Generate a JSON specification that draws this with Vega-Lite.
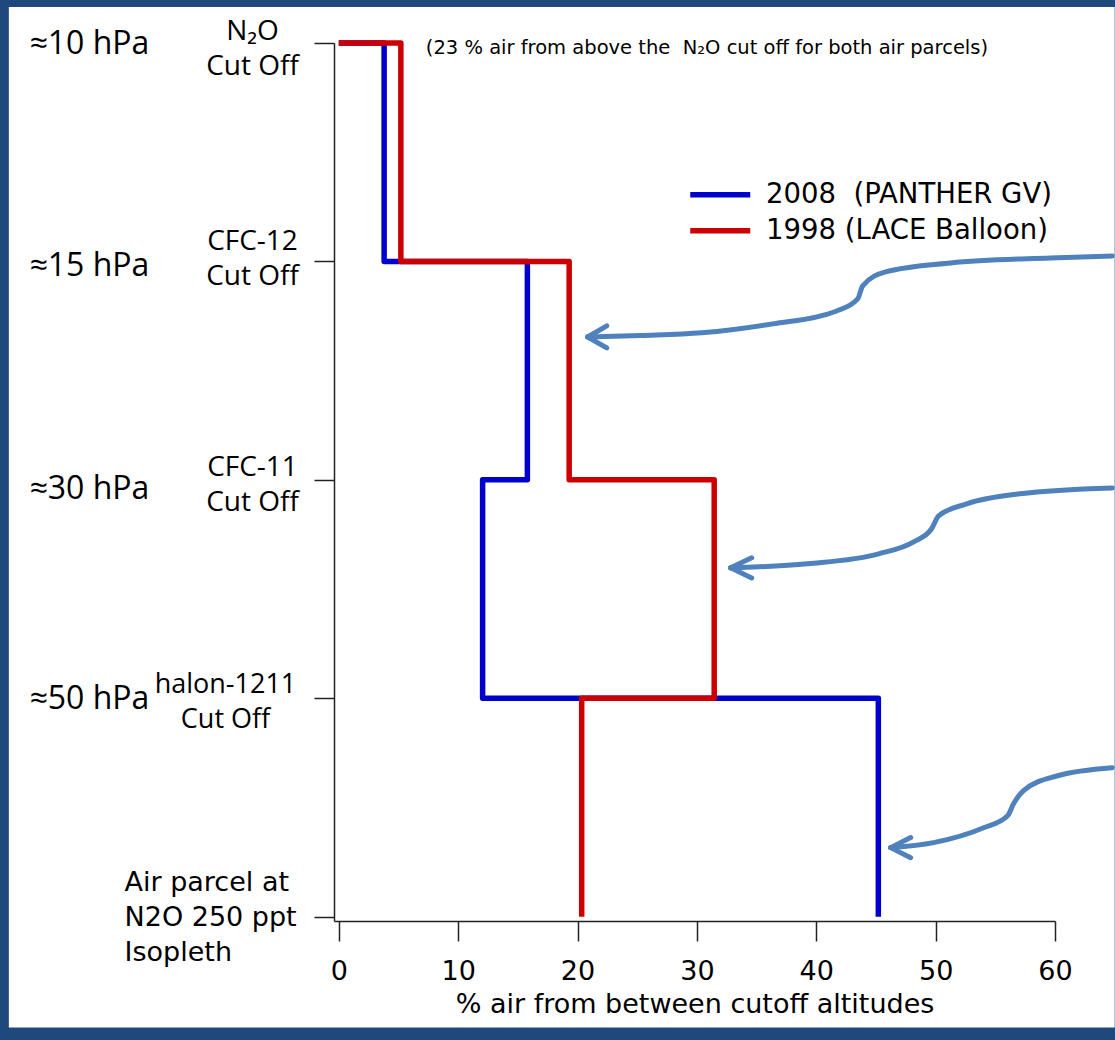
{
  "$schema": "https://vega.github.io/schema/vega-lite/v6.json",
  "background": "#1f497d",
  "padding": {"left": 8, "top": 6, "right": 0, "bottom": 12},
  "width": 721,
  "height": 878,
  "config": {"view": {"stroke": null}},
  "datasets": {
    "steps": [
      {"series": "2008\u00a0 (PANTHER GV)", "level": 4, "pct": 0},
      {"series": "2008\u00a0 (PANTHER GV)", "level": 3, "pct": 3.8},
      {"series": "2008\u00a0 (PANTHER GV)", "level": 2, "pct": 15.8},
      {"series": "2008\u00a0 (PANTHER GV)", "level": 1, "pct": 12.05},
      {"series": "2008\u00a0 (PANTHER GV)", "level": 0, "pct": 45.2},
      {"series": "1998 (LACE Balloon)", "level": 4, "pct": 0},
      {"series": "1998 (LACE Balloon)", "level": 3, "pct": 5.2},
      {"series": "1998 (LACE Balloon)", "level": 2, "pct": 19.3},
      {"series": "1998 (LACE Balloon)", "level": 1, "pct": 31.45},
      {"series": "1998 (LACE Balloon)", "level": 0, "pct": 20.35}
    ],
    "arrows": [
      {"part": "a1", "seq": 0, "pct": 20.85, "level": 2.654},
      {"part": "a1", "seq": 1, "pct": 25.29, "level": 2.661},
      {"part": "a1", "seq": 2, "pct": 30.40, "level": 2.673},
      {"part": "a1", "seq": 3, "pct": 36.35, "level": 2.714},
      {"part": "a1", "seq": 4, "pct": 41.71, "level": 2.773},
      {"part": "a1", "seq": 5, "pct": 43.47, "level": 2.828},
      {"part": "a1", "seq": 6, "pct": 43.89, "level": 2.888},
      {"part": "a1", "seq": 7, "pct": 45.81, "level": 2.952},
      {"part": "a1", "seq": 8, "pct": 51.26, "level": 2.993},
      {"part": "a1", "seq": 9, "pct": 59.63, "level": 3.016},
      {"part": "a1", "seq": 10, "pct": 64.8, "level": 3.025},
      {"part": "a1u", "seq": 0, "pct": 20.85, "level": 2.654},
      {"part": "a1u", "seq": 1, "pct": 22.45, "level": 2.705},
      {"part": "a1d", "seq": 0, "pct": 20.85, "level": 2.654},
      {"part": "a1d", "seq": 1, "pct": 22.45, "level": 2.604},
      {"part": "a2", "seq": 0, "pct": 32.83, "level": 1.597},
      {"part": "a2", "seq": 1, "pct": 39.28, "level": 1.616},
      {"part": "a2", "seq": 2, "pct": 45.23, "level": 1.661},
      {"part": "a2", "seq": 3, "pct": 48.16, "level": 1.716},
      {"part": "a2", "seq": 4, "pct": 49.66, "level": 1.776},
      {"part": "a2", "seq": 5, "pct": 50.25, "level": 1.835},
      {"part": "a2", "seq": 6, "pct": 52.60, "level": 1.890},
      {"part": "a2", "seq": 7, "pct": 57.04, "level": 1.936},
      {"part": "a2", "seq": 8, "pct": 64.8, "level": 1.963},
      {"part": "a2u", "seq": 0, "pct": 32.83, "level": 1.597},
      {"part": "a2u", "seq": 1, "pct": 34.59, "level": 1.643},
      {"part": "a2d", "seq": 0, "pct": 32.83, "level": 1.597},
      {"part": "a2d", "seq": 1, "pct": 34.59, "level": 1.551},
      {"part": "a3", "seq": 0, "pct": 46.23, "level": 0.316},
      {"part": "a3", "seq": 1, "pct": 49.83, "level": 0.339},
      {"part": "a3", "seq": 2, "pct": 54.02, "level": 0.407},
      {"part": "a3", "seq": 3, "pct": 56.03, "level": 0.462},
      {"part": "a3", "seq": 4, "pct": 56.53, "level": 0.517},
      {"part": "a3", "seq": 5, "pct": 57.37, "level": 0.577},
      {"part": "a3", "seq": 6, "pct": 60.22, "level": 0.645},
      {"part": "a3", "seq": 7, "pct": 64.8, "level": 0.682},
      {"part": "a3u", "seq": 0, "pct": 46.23, "level": 0.316},
      {"part": "a3u", "seq": 1, "pct": 47.91, "level": 0.362},
      {"part": "a3d", "seq": 0, "pct": 46.23, "level": 0.316},
      {"part": "a3d", "seq": 1, "pct": 47.91, "level": 0.270}
    ],
    "note": [
      {"text": "(23 % air from above the\u00a0 N\u2082O cut off for both air parcels)", "pct": 7.29, "level": 4}
    ]
  },
  "layer": [
    {
      "layer": [
        {
          "data": {"values": [{}]},
          "mark": {"type": "rect", "fill": "#ffffff"},
          "encoding": {
            "x": {
              "datum": -27.64, "type": "quantitative",
              "scale": {"domain": [-0.4, 60], "nice": false, "zero": false},
              "axis": {
                "values": [0, 10, 20, 30, 40, 50, 60],
                "title": "% air from between cutoff altitudes",
                "zindex": 1, "grid": false,
                "domainColor": "#222", "domainWidth": 1.5,
                "tickColor": "#222", "tickWidth": 1.5, "tickSize": 20,
                "labelPadding": 17, "labelFont": "DejaVu Sans", "labelFontSize": 27, "labelColor": "#000",
                "labelFlush": false, "labelOverlap": false,
                "titleFont": "DejaVu Sans", "titleFontSize": 27, "titleFontWeight": "normal", "titleColor": "#000",
                "titleY": 91, "titleBaseline": "alphabetic"
              }
            },
            "x2": {"datum": 65.0},
            "y": {
              "datum": 4.165, "type": "quantitative",
              "scale": {"domain": [-0.02, 4], "nice": false, "zero": false},
              "axis": {
                "values": [0, 1, 2, 3, 4],
                "title": null, "orient": "left", "zindex": 1, "grid": false,
                "domainColor": "#222", "domainWidth": 1.5,
                "tickColor": "#222", "tickWidth": 1.5, "tickSize": 20,
                "labelPadding": {"condition": [{"test": "datum.value == 0", "value": 190}, {"test": "datum.value == 1", "value": 89}], "value": 62},
                "labelOffset": {"condition": [{"test": "datum.value == 0", "value": -34}, {"test": "datum.value == 3", "value": -20}, {"test": "datum.value == 1", "value": -14}], "value": -12},
                "labelAlign": {"condition": {"test": "datum.value == 0", "value": "left"}, "value": "center"},
                "labelFont": {"condition": {"test": "datum.value == 0", "value": "DejaVu Sans"}, "value": "Open Sans"},
                "labelFontSize": {"condition": [{"test": "datum.value == 0", "value": 27}, {"test": "datum.value == 1", "value": 27}], "value": 28},
                "labelColor": "#000", "labelLineHeight": 35, "labelBaseline": "middle",
                "labelLimit": 400, "labelOverlap": false, "labelFlush": false, "labelBound": false,
                "labelExpr": "datum.value == 4 ? ['N\u2082O', 'Cut Off'] : datum.value == 3 ? ['CFC-12', 'Cut Off'] : datum.value == 2 ? ['CFC-11', 'Cut Off'] : datum.value == 1 ? ['halon-1211', 'Cut Off'] : ['Air parcel at', 'N2O 250 ppt', 'Isopleth']"
              }
            },
            "y2": {"datum": -0.508}
          }
        },
        {
          "data": {"name": "arrows"},
          "mark": {"type": "line", "interpolate": "monotone", "color": "#4f81bd", "strokeWidth": 5, "strokeCap": "round", "strokeJoin": "round"},
          "encoding": {
            "x": {"field": "pct", "type": "quantitative", "scale": {"domain": [-0.4, 60], "nice": false, "zero": false}},
            "y": {"field": "level", "type": "quantitative", "scale": {"domain": [-0.02, 4], "nice": false, "zero": false}},
            "detail": {"field": "part", "type": "nominal"},
            "order": {"field": "seq", "type": "quantitative"}
          }
        },
        {
          "data": {"name": "steps"},
          "mark": {"type": "line", "interpolate": "step-after", "strokeWidth": 5.5, "strokeJoin": "round", "strokeCap": "butt"},
          "encoding": {
            "x": {"field": "pct", "type": "quantitative", "scale": {"domain": [-0.4, 60], "nice": false, "zero": false}},
            "y": {"field": "level", "type": "quantitative", "scale": {"domain": [-0.02, 4], "nice": false, "zero": false}},
            "color": {
              "field": "series", "type": "nominal",
              "scale": {"domain": ["2008\u00a0 (PANTHER GV)", "1998 (LACE Balloon)"], "range": ["#0000cc", "#cc0000"]},
              "legend": {
                "orient": "none", "legendX": 347.5, "legendY": 138, "title": null,
                "symbolType": "M-1,0H11", "symbolSize": 100, "symbolStrokeWidth": 5.5,
                "labelFont": "DejaVu Sans", "labelFontSize": 27.5, "labelColor": "#000",
                "labelOffset": 57, "rowPadding": 7, "padding": 0, "labelLimit": 500, "zindex": 1
              }
            },
            "order": {"field": "level", "sort": "descending"}
          }
        }
      ]
    },
    {
      "data": {"name": "note"},
      "mark": {"type": "text", "font": "DejaVu Sans", "fontSize": 19.5, "align": "left", "baseline": "middle", "dy": 5, "color": "#000"},
      "encoding": {
        "x": {"field": "pct", "type": "quantitative", "scale": {"domain": [-0.4, 60], "nice": false, "zero": false}},
        "y": {
          "field": "level", "type": "quantitative",
          "scale": {"domain": [-0.02, 4], "nice": false, "zero": false},
          "axis": {
            "values": [1, 2, 3, 4], "orient": "left", "offset": 305,
            "domain": false, "ticks": false, "tickSize": 0, "labelPadding": 0,
            "labelAlign": "left", "labelBaseline": "middle",
            "labelFont": "Open Sans", "labelFontSize": 32, "labelColor": "#000",
            "labelOffset": {"condition": [{"test": "datum.value == 3", "value": 4}, {"test": "datum.value == 2", "value": 9}], "value": 0},
            "title": null, "grid": false, "zindex": 1,
            "labelFlush": false, "labelOverlap": false, "labelBound": false,
            "labelExpr": "datum.value == 4 ? '\u224810 hPa' : datum.value == 3 ? '\u224815 hPa' : datum.value == 2 ? '\u224830 hPa' : '\u224850 hPa'"
          }
        },
        "text": {"field": "text", "type": "nominal"}
      }
    }
  ],
  "resolve": {"scale": {"y": "independent"}}
}
